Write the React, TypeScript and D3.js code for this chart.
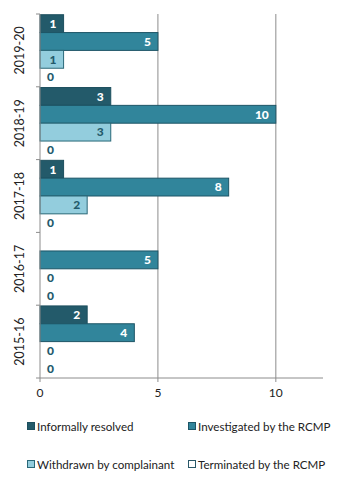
import React from 'react';
import * as d3 from 'd3';

const years = ['2019-20', '2018-19', '2017-18', '2016-17', '2015-16'];
const seriesNames = ['Informally resolved', 'Investigated by the RCMP', 'Withdrawn by complainant', 'Terminated by the RCMP'];
const informally: (number | null)[] = [1, 3, 1, null, 2];
const investigated: (number | null)[] = [5, 10, 8, 5, 4];
const withdrawn: (number | null)[] = [1, 3, 2, 0, 0];
const terminated: (number | null)[] = [0, 0, 0, 0, 0];
const xTicks = [0, 5, 10];

const fills = ['#235a6a', '#31859b', '#93cddd', '#ffffff'];
const strokes = ['#1d4f5e', '#1d5566', '#2a6878', '#2a5868'];
const labelColors = ['#ffffff', '#ffffff', '#245a6b', '#245a6b'];

const W = 352;
const H = 496;
const margin = { top: 14, right: 29, bottom: 118, left: 40 };
const font = 'Lato, "DejaVu Sans", sans-serif';

export default function App() {
  const series = [informally, investigated, withdrawn, terminated];
  const x = d3.scaleLinear().domain([0, 12]).range([margin.left, W - margin.right]);
  const y = d3.scaleBand().domain(years).range([margin.top, H - margin.bottom]).paddingInner(0.02).paddingOuter(0.01);
  const inner = d3.scaleBand().domain(seriesNames).range([0, y.bandwidth()]);
  const bottom = H - margin.bottom;

  return (
    <svg width={W} height={H} style={{ position: 'absolute', left: 0, top: 0 }}>
      <rect width={W} height={H} fill="#fff" />
      {xTicks.filter(t => t > 0).map(t => (
        <line key={'g' + t} x1={x(t)} x2={x(t)} y1={margin.top} y2={bottom} stroke="#8c8c8c" strokeWidth={1} />
      ))}
      {years.map((yr, i) => (
        <g key={yr}>
          {series.map((s, j) => {
            const v = s[i];
            if (v === null) return null;
            const by = (y(yr) as number) + (inner(seriesNames[j]) as number);
            const bh = inner.bandwidth();
            return (
              <g key={j}>
                {v > 0 && (
                  <rect x={x(0)} y={by} width={x(v) - x(0)} height={bh} fill={fills[j]} stroke={strokes[j]} strokeWidth={1} />
                )}
                <text
                  x={v > 0 ? x(v) - 7 : x(0) + 7}
                  y={by + bh / 2}
                  dy="0.36em"
                  textAnchor={v > 0 ? 'end' : 'start'}
                  fill={v > 0 ? labelColors[j] : '#245a6b'}
                  fontFamily={font}
                  fontWeight="900"
                  fontSize={12}
                >
                  {v}
                </text>
              </g>
            );
          })}
          <text
            transform={`translate(24,${(y(yr) as number) + y.bandwidth() / 2}) rotate(-90)`}
            textAnchor="middle"
            fontFamily={font}
            fontSize={12.5}
            fill="#222"
          >
            {yr}
          </text>
        </g>
      ))}
      {/* left axis */}
      <line x1={x(0)} x2={x(0)} y1={margin.top} y2={bottom} stroke="#8c8c8c" />
      {[margin.top, ...years.map(yr => (y(yr) as number) + y.bandwidth() + y.step() * y.paddingInner() / 2)].map((ty, k) => (
        <line key={'lt' + k} x1={x(0) - 4} x2={x(0)} y1={Math.min(ty, bottom)} y2={Math.min(ty, bottom)} stroke="#8c8c8c" />
      ))}
      {/* bottom axis */}
      <line x1={x(0)} x2={W - margin.right} y1={bottom} y2={bottom} stroke="#8c8c8c" />
      {xTicks.map(t => (
        <g key={'t' + t}>
          <line x1={x(t)} x2={x(t)} y1={bottom} y2={bottom + 4} stroke="#8c8c8c" />
          <text x={x(t)} y={bottom + 19} textAnchor="middle" fontFamily={font} fontSize={12} fill="#222">{t}</text>
        </g>
      ))}
      {/* legend */}
      {seriesNames.map((name, j) => {
        const lx = j % 2 === 0 ? 27 : 188;
        const ly = j < 2 ? 427 : 465;
        return (
          <g key={name}>
            <rect x={lx + 0.5} y={ly - 4.5} width={7} height={7} fill={fills[j]} stroke={strokes[j]} strokeWidth={1} />
            <text x={lx + 10} y={ly} dy="0.35em" fontFamily={font} fontSize={11.6} fill="#222">{name}</text>
          </g>
        );
      })}
    </svg>
  );
}
